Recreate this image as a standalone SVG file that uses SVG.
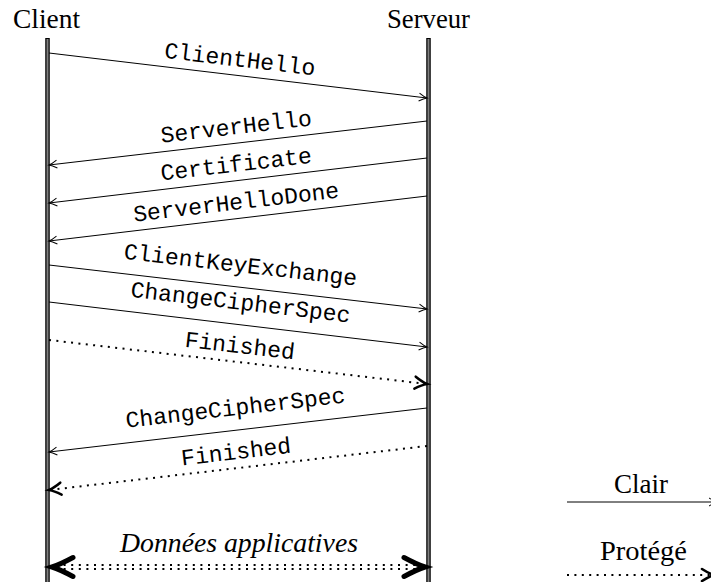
<svg xmlns="http://www.w3.org/2000/svg" width="711" height="582" viewBox="0 0 711 582">
<style>
.serif{font-family:"Liberation Serif","Tinos","DejaVu Serif","Noto Serif",serif;font-size:27px;fill:#000}
.ital{font-family:"Liberation Serif","Tinos","DejaVu Serif","Noto Serif",serif;font-size:27px;font-style:italic;fill:#000}
.mono{font-family:"Liberation Mono","DejaVu Sans Mono",monospace;font-size:23px;fill:#000;text-anchor:middle}
.life-out{stroke:#000;stroke-width:4.5;fill:none}
.life-in{stroke:#808080;stroke-width:2;fill:none}
.plain{stroke:#000;stroke-width:1;fill:none;marker-end:url(#thin)}
.dot{stroke:#000;stroke-width:2;stroke-dasharray:2 5.4;fill:none;marker-end:url(#thick)}
.ddot{stroke:#000;stroke-width:2;stroke-dasharray:2 5.6;fill:none}
</style>
<defs>
<marker id="thin" markerUnits="userSpaceOnUse" orient="auto" refX="0" refY="0" markerWidth="20" markerHeight="20" overflow="visible">
<path d="M-8,-4 Q-3,-0.8 0,0 Q-3,0.8 -8,4" fill="none" stroke="#000" stroke-width="1"/>
</marker>
<marker id="thick" markerUnits="userSpaceOnUse" orient="auto" refX="0" refY="0" markerWidth="20" markerHeight="20" overflow="visible">
<path d="M-12,-6 Q-5,-1.5 0,0 Q-5,1.5 -12,6" fill="none" stroke="#000" stroke-width="2.6" stroke-linecap="round"/>
</marker>
<marker id="big" markerUnits="userSpaceOnUse" orient="auto-start-reverse" refX="0" refY="0" markerWidth="40" markerHeight="40" overflow="visible">
<path d="M-21,-9.5 Q-8,-2.5 0,0 Q-8,2.5 -21,9.5" fill="none" stroke="#000" stroke-width="5" stroke-linecap="round"/>
</marker>
</defs>
<rect width="711" height="582" fill="#fff"/>

<g id="client">
<text class="serif" x="46.5" y="28" text-anchor="middle" textLength="67" lengthAdjust="spacingAndGlyphs">Client</text>
<line class="life-out" x1="47.5" y1="38" x2="47.5" y2="582"/>
<line class="life-in" x1="47.5" y1="39" x2="47.5" y2="582"/>
</g>
<g id="serveur">
<text class="serif" x="428.5" y="28" text-anchor="middle" textLength="83" lengthAdjust="spacingAndGlyphs">Serveur</text>
<line class="life-out" x1="428.5" y1="38" x2="428.5" y2="582"/>
<line class="life-in" x1="428.5" y1="39" x2="428.5" y2="582"/>
</g>

<g id="connectors">
<g id="m1"><line class="plain" x1="49" y1="53" x2="427" y2="98"/>
<text class="mono" transform="translate(238,75.5) rotate(6.74)" y="-9">ClientHello</text></g>
<g id="m2"><line class="plain" x1="427" y1="121" x2="49" y2="165"/>
<text class="mono" transform="translate(238,143) rotate(-6.59)" y="-9">ServerHello</text></g>
<g id="m3"><line class="plain" x1="427" y1="158" x2="49" y2="203"/>
<text class="mono" transform="translate(238,180.5) rotate(-6.74)" y="-9">Certificate</text></g>
<g id="m4"><line class="plain" x1="427" y1="196" x2="49" y2="241"/>
<text class="mono" transform="translate(238,218.5) rotate(-6.74)" y="-9">ServerHelloDone</text></g>
<g id="m5"><line class="plain" x1="49" y1="265" x2="427" y2="309"/>
<text class="mono" transform="translate(238,287) rotate(6.59)" y="-15">ClientKeyExchange</text></g>
<g id="m6"><line class="plain" x1="49" y1="302" x2="427" y2="347"/>
<text class="mono" transform="translate(238,324.5) rotate(6.74)" y="-15">ChangeCipherSpec</text></g>
<g id="m7"><line class="dot" x1="49" y1="340" x2="427" y2="384"/>
<text class="mono" transform="translate(238,362) rotate(6.59)" y="-9">Finished</text></g>
<g id="m8"><line class="plain" x1="427" y1="408" x2="49" y2="452"/>
<text class="mono" transform="translate(238,430) rotate(-6.59)" y="-15">ChangeCipherSpec</text></g>
<g id="m9"><line class="dot" x1="427" y1="446" x2="49" y2="490"/>
<text class="mono" transform="translate(238,468) rotate(-6.74)" y="-9">Finished</text></g>
<g id="m10">
<line class="ddot" x1="56" y1="565" x2="420" y2="565"/>
<line class="ddot" x1="56" y1="569" x2="420" y2="569"/>
<line x1="52" y1="567" x2="425" y2="567" stroke="none" marker-start="url(#big)" marker-end="url(#big)"/>
<text class="ital" x="239" y="552" text-anchor="middle" textLength="238" lengthAdjust="spacingAndGlyphs">Données applicatives</text>
</g>
</g>

<g id="legend">
<text class="serif" x="641" y="493" text-anchor="middle" textLength="54" lengthAdjust="spacingAndGlyphs">Clair</text>
<line class="plain" x1="567" y1="502" x2="717" y2="502"/>
<text class="serif" x="643.5" y="560" text-anchor="middle" textLength="87" lengthAdjust="spacingAndGlyphs">Protégé</text>
<line class="dot" x1="567" y1="575" x2="714" y2="575"/>
</g>
</svg>
